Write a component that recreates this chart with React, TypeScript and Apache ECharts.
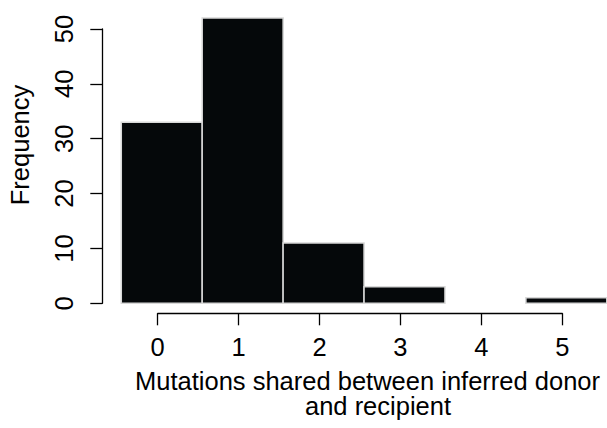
import React, { useEffect, useRef } from "react";
import * as echarts from "echarts";

const bins = [0, 1, 2, 3, 4, 5];
const counts = [33, 52, 11, 3, 0, 1];
const xTicks = [0, 1, 2, 3, 4, 5];
const yTicks = [0, 10, 20, 30, 40, 50];
const xTitle1 = "Mutations shared between inferred donor";
const xTitle2 = "and recipient";
const yTitle = "Frequency";

const FONT = "'Liberation Sans', Arial, Helvetica, sans-serif";
const FS = 25.5;

export default function App() {
  const ref = useRef<HTMLDivElement>(null);
  useEffect(() => {
    if (!ref.current) return;
    const chart = echarts.init(ref.current, null, { renderer: "svg" });
    const data = bins.map((b, i) => [b, counts[i]]);
    chart.setOption({
      animation: false,
      backgroundColor: "#ffffff",
      grid: { left: 157.7, right: 44.7, top: 29, bottom: 124.7, containLabel: false },
      xAxis: {
        type: "value",
        min: xTicks[0],
        max: xTicks[xTicks.length - 1],
        interval: 1,
        offset: 10,
        axisLine: { show: true, onZero: false, lineStyle: { color: "#000", width: 1.3 } },
        axisTick: { show: true, length: 12, lineStyle: { color: "#000", width: 1.3 } },
        axisLabel: { margin: 21, fontSize: FS, fontFamily: FONT, color: "#000" },
        splitLine: { show: false },
      },
      yAxis: {
        type: "value",
        min: yTicks[0],
        max: yTicks[yTicks.length - 1],
        interval: 10,
        offset: 55.4,
        axisLine: { show: true, onZero: false, lineStyle: { color: "#000", width: 1.3 } },
        axisTick: { show: true, length: 12, lineStyle: { color: "#000", width: 1.3 } },
        axisLabel: { margin: 25, rotate: 90, fontSize: FS, fontFamily: FONT, color: "#000" },
        splitLine: { show: false },
      },
      graphic: [
        {
          type: "text",
          x: 19.8,
          y: 145,
          rotation: Math.PI / 2,
          style: {
            text: yTitle,
            fontSize: FS,
            fontFamily: FONT,
            fill: "#000",
            textAlign: "center",
            textVerticalAlign: "middle",
          },
        },
        {
          type: "text",
          x: 367.5,
          y: 380.5,
          style: {
            text: xTitle1,
            fontSize: FS,
            fontFamily: FONT,
            fill: "#000",
            textAlign: "center",
            textVerticalAlign: "middle",
          },
        },
        {
          type: "text",
          x: 378,
          y: 406,
          style: {
            text: xTitle2,
            fontSize: FS,
            fontFamily: FONT,
            fill: "#000",
            textAlign: "center",
            textVerticalAlign: "middle",
          },
        },
      ],
      series: [
        {
          type: "custom",
          clip: false,
          data,
          renderItem: (params: any, api: any) => {
            const b = api.value(0);
            const v = api.value(1);
            if (!v) return null;
            const p0 = api.coord([b - 0.45, v]);
            const p1 = api.coord([b + 0.55, 0]);
            return {
              type: "rect",
              shape: {
                x: p0[0],
                y: p0[1],
                width: p1[0] - p0[0],
                height: p1[1] - p0[1],
              },
              style: { fill: "#05080a", stroke: "#d8d8d8", lineWidth: 1.5 },
            };
          },
        },
      ],
    });
    return () => chart.dispose();
  }, []);
  return (
    <div
      ref={ref}
      style={{ position: "absolute", left: 0, top: 0, width: 607, height: 428 }}
    />
  );
}
